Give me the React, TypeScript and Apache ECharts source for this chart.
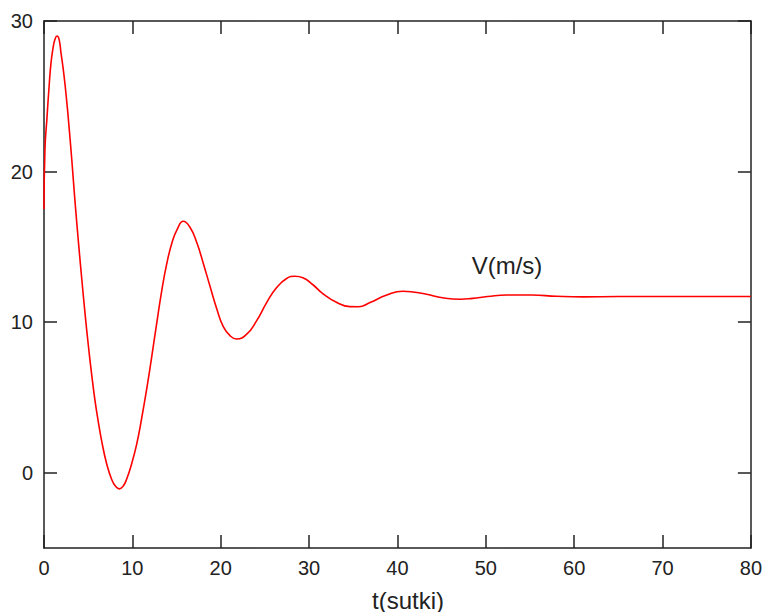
import React, { useEffect, useRef } from "react";
import * as echarts from "echarts";

const tValues: number[] = [
  0, 0.11, 0.34, 0.57, 0.79, 1.02, 1.25, 1.47, 1.7, 1.92, 2.26, 2.6, 2.83, 3.17, 3.51, 3.96, 4.27,
  4.64, 5.01, 5.4, 5.77, 6.14, 6.53, 7.09, 7.66, 8.1, 8.52, 8.95, 9.36, 9.92, 10.49, 11.05, 11.69,
  12.19, 12.75, 13.3, 13.9, 14.5, 15.1, 15.76, 16.52, 17.28, 18.03, 18.78, 19.54, 20.29, 21.05,
  21.8, 22.94, 24.07, 25.2, 26.33, 27.46, 28.4, 29.3, 30.4, 31.55, 33.15, 34.6, 35.6, 36.9, 38.8,
  40.6, 41.75, 43.3, 45.1, 47.1, 48.5, 50.2, 52.4, 55.2, 58, 61, 65, 70, 75, 80,
];
const vValues: number[] = [
  17.5, 21.5, 23.6, 25.6, 27.2, 28.2, 28.8, 29.0, 28.8, 27.9, 26.4, 24.5, 23.0, 20.6, 18.0, 14.9,
  12.9, 10.6, 8.5, 6.5, 4.8, 3.4, 2.1, 0.6, -0.45, -0.9, -1.07, -0.9, -0.42, 0.6, 1.9, 3.6, 5.8,
  7.7, 9.9, 12.0, 13.9, 15.3, 16.2, 16.7, 16.3, 15.3, 13.9, 12.4, 10.9, 9.7, 9.1, 8.88, 9.2, 10.1,
  11.3, 12.3, 12.9, 13.05, 12.95, 12.5, 11.9, 11.3, 11.03, 11.02, 11.3, 11.8, 12.05, 12.0, 11.85,
  11.62, 11.52, 11.58, 11.7, 11.8, 11.8, 11.72, 11.68, 11.7, 11.7, 11.7, 11.7,
];
const yTickValues: number[] = [0, 10, 20, 30];
const seriesLabel = "V(m/s)";
const xTitle = "t(sutki)";

const AXIS_COLOR = "#222";
const FONT = "'Liberation Sans', Arial, sans-serif";

export default function App() {
  const ref = useRef<HTMLDivElement>(null);
  useEffect(() => {
    document.body.style.margin = "0";
    if (!ref.current) return;
    const chart = echarts.init(ref.current, undefined, { renderer: "svg" });
    const axisLine = { show: true, onZero: false, lineStyle: { color: AXIS_COLOR, width: 1.5 } };
    const tick = { show: true, inside: true, length: 13, lineStyle: { color: AXIS_COLOR, width: 1.5 } };
    chart.setOption({
      animation: false,
      backgroundColor: "#fff",
      grid: { left: 44, right: 14, top: 21, bottom: 64 },
      xAxis: [
        {
          type: "value",
          min: 0,
          max: 80,
          interval: 10,
          position: "bottom",
          axisLine,
          axisTick: tick,
          splitLine: { show: false },
          axisLabel: { color: AXIS_COLOR, fontSize: 20, fontFamily: FONT, margin: 10 },
        },
        {
          type: "value",
          min: 0,
          max: 80,
          interval: 10,
          position: "top",
          axisLine,
          axisTick: tick,
          splitLine: { show: false },
          axisLabel: { show: false },
        },
      ],
      yAxis: [
        {
          type: "value",
          min: -5,
          max: 30,
          position: "left",
          axisLine,
          axisTick: { ...tick, customValues: yTickValues },
          splitLine: { show: false },
          axisLabel: {
            color: AXIS_COLOR,
            fontSize: 20,
            fontFamily: FONT,
            margin: 11,
            customValues: yTickValues,
          },
        },
        {
          type: "value",
          min: -5,
          max: 30,
          position: "right",
          axisLine,
          axisTick: { ...tick, customValues: yTickValues },
          splitLine: { show: false },
          axisLabel: { show: false, customValues: yTickValues },
        },
      ],
      graphic: [
        {
          type: "text",
          x: 507,
          y: 265,
          style: {
            text: seriesLabel,
            fill: AXIS_COLOR,
            font: `24px ${FONT}`,
            textAlign: "center",
            textVerticalAlign: "middle",
          },
        },
        {
          type: "text",
          x: 408,
          y: 600,
          style: {
            text: xTitle,
            fill: AXIS_COLOR,
            font: `24px ${FONT}`,
            textAlign: "center",
            textVerticalAlign: "middle",
          },
        },
      ],
      series: [
        {
          type: "line",
          xAxisIndex: 0,
          yAxisIndex: 0,
          data: tValues.map((t, i) => [t, vValues[i]]),
          showSymbol: false,
          smooth: 0.5,
          lineStyle: { color: "#ff0000", width: 1.6 },
          itemStyle: { color: "#ff0000" },
          z: 5,
        },
      ],
    });
    return () => chart.dispose();
  }, []);
  return <div ref={ref} style={{ width: 765, height: 612 }} />;
}
